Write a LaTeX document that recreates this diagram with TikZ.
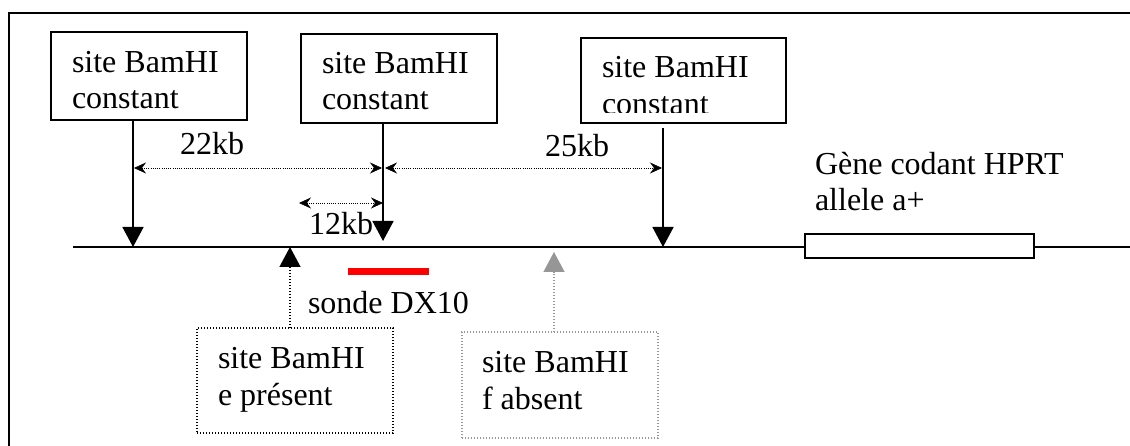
\documentclass[tikz,border=0pt]{standalone}
\usepackage{fontspec}
\setmainfont{Liberation Serif}
\usetikzlibrary{arrows.meta}
\definecolor{grayf}{RGB}{150,150,150}
\definecolor{redbar}{RGB}{255,0,0}
\begin{document}
\begin{tikzpicture}[x=1pt,y=-1pt,
  every node/.style={inner sep=0pt,outer sep=0pt},
  txt/.style={anchor=base west,font=\fontsize{32}{36}\selectfont},
  sitebox/.style={draw,line width=1.4pt,anchor=north west},
  cutarrow/.style={line width=1.6pt,-{Triangle[width=21pt,length=20pt]}},
  dimline/.style={line width=0.6pt,dash pattern=on 1pt off 1.2pt,
     {Stealth[length=12pt,width=11pt,inset=4pt]}-{Stealth[length=12pt,width=11pt,inset=4pt]}},
  varbox/.style={line width=1.3pt,dash pattern=on 1.3pt off 1.7pt,anchor=north west}
]
\useasboundingbox (0,0) rectangle (1130,446);
% frame (cropped)
\draw[line width=2pt] (9,446) -- (9,13) -- (1130,13);
% DNA line
\coordinate (l0) at (73,247);
\coordinate (l1) at (1130,247);
\draw[line width=2pt] (l0) -- (l1);
% site positions on the line
\coordinate (s1) at (133,247);
\coordinate (s2) at (383,241);
\coordinate (s3) at (663,247);
\coordinate (se) at (290,247);
\coordinate (sf) at (554,252);
% constant sites
\node[sitebox,minimum width=196pt,minimum height=88pt] (b1) at (51,32) {};
\node[txt] at (72,73) {site BamHI};
\node[txt] at (72,109) {constant};
\node[sitebox,minimum width=196pt,minimum height=89pt] (b2) at (301,34) {};
\node[txt] at (322,74) {site BamHI};
\node[txt] at (322,110) {constant};
\node[sitebox,minimum width=205pt,minimum height=85pt] (b3) at (581,38) {};
\node[txt] at (602,78) {site BamHI};
\begin{scope}
\clip (581,80) rectangle (786,112.5);
\node[txt] at (602,115) {constant};
\end{scope}
\draw[cutarrow] (s1 |- b1.south) -- (s1);
\draw[cutarrow] (s2 |- b2.south) -- (s2);
\draw[cutarrow] ([yshift=-5pt]s3 |- b3.south) -- (s3);
% distances
\coordinate (d1a) at (134,168);
\coordinate (d1b) at (382,168);
\coordinate (d2a) at (385,168);
\coordinate (d2b) at (662,168);
\coordinate (d3a) at (299,203);
\coordinate (d3b) at (383,203);
\draw[dimline] (d1a) -- (d1b);
\draw[dimline] (d2a) -- (d2b);
\draw[dimline] (d3a) -- (d3b);
\node[txt] (k22) at (180,155) {22kb};
\node[txt] (k25) at (545,157) {25kb};
\node[txt] (k12) at (309,235) {12kb};
% probe
\coordinate (p0) at (348,272);
\coordinate (p1) at (429,272);
\draw[redbar,line width=7pt] (p0) -- (p1);
\node[txt] (sonde) at (308,314) {sonde DX10};
% variable sites
\node[varbox,draw=black,minimum width=196pt,minimum height=105pt] (be) at (197,328) {};
\node[txt] at (218,368) {site BamHI};
\node[txt] at (218,405) {e présent};
\draw[line width=1.3pt,dash pattern=on 1.3pt off 1.7pt,-{Triangle[width=21pt,length=20pt]}] (se |- be.north) -- (se);
\node[varbox,draw=grayf,minimum width=196pt,minimum height=106pt] (bf) at (462,332) {};
\node[txt] at (482,372) {site BamHI};
\node[txt] at (482,409) {f absent};
\draw[grayf,line width=1.3pt,dash pattern=on 1.3pt off 1.7pt,-{Triangle[width=21pt,length=20pt]}] (sf |- bf.north) -- (sf);
% gene
\node[draw,fill=white,line width=1.4pt,anchor=north west,minimum width=229pt,minimum height=24pt] (gene) at (805,234) {};
\node[txt] at (815,175) {Gène codant HPRT};
\node[txt] at (815,211) {allele a+};
\end{tikzpicture}
\end{document}
